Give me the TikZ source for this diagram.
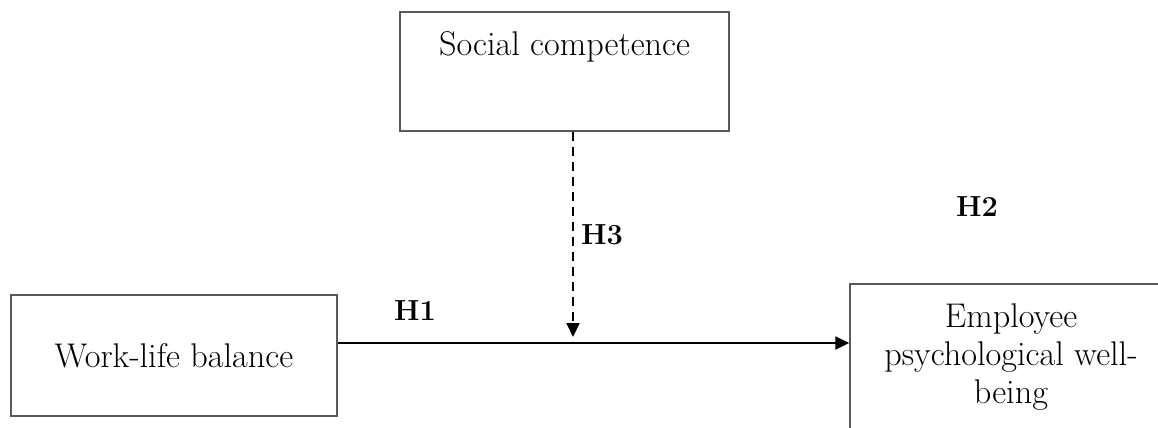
\documentclass[tikz,border=0pt]{standalone}
\usetikzlibrary{positioning,arrows.meta}
\begin{document}
\begin{tikzpicture}[x=0.02cm,y=-0.02cm,
   box/.style={draw=black!65,line width=0.85pt,inner sep=0pt,font=\fontsize{19.5}{21.5}\selectfont},
   hyp/.style={font=\fontsize{16.5}{20}\selectfont\bfseries,inner sep=0pt},
   link/.style={line width=1.1pt,-{Triangle[length=0.28cm,width=0.26cm]}}]
   \useasboundingbox (0,0) rectangle (1158,427);
   \node[box,minimum width=6.58cm,minimum height=2.38cm,text height=0.86cm,text depth=1.52cm] (soc) at (564.5,71.5) {Social competence};
   \node[box,minimum width=6.52cm,minimum height=2.42cm] (wlb) at (174,355.5) {Work-life balance};
   \node[box,minimum width=6.44cm,minimum height=2.92cm,align=center] (epw) at (1011,357) {Employee\\psychological well-\\being};
   \coordinate (mod) at (573,343);
   \draw[link] (wlb.east |- mod) -- (epw.west |- mod);
   \draw[link,dash pattern=on 0.18cm off 0.12cm] (soc.south -| mod) -- ([yshift=0.12cm]mod);
   \node[hyp] (h1) at (415,311) {H1};
   \node[hyp] (h3) at (602,235) {H3};
   \node[hyp] (h2) at (977,207) {H2};
\end{tikzpicture}
\end{document}
